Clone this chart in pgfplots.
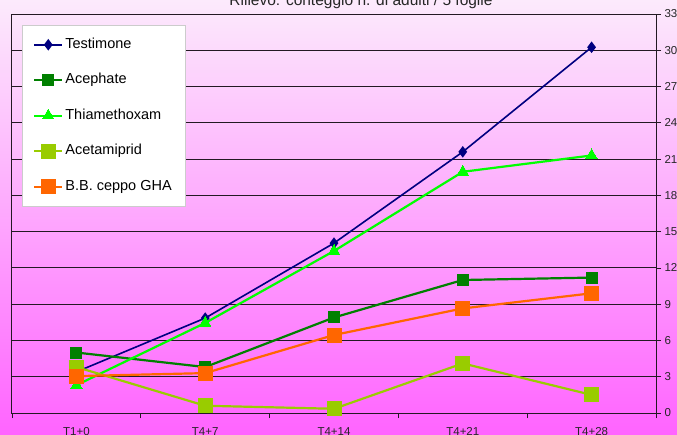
\documentclass[border=0pt]{standalone}
\usepackage{fontspec}
\setmainfont{Liberation Sans}
\usepackage{pgfplots}
\pgfplotsset{compat=1.18}

\definecolor{bgtop}{RGB}{252,234,252}
\definecolor{bgbot}{RGB}{255,100,255}
\definecolor{cTest}{RGB}{0,0,128}
\definecolor{cAceph}{RGB}{0,128,0}
\definecolor{cThia}{RGB}{0,255,0}
\definecolor{cAcet}{RGB}{153,204,0}
\definecolor{cBB}{RGB}{255,102,0}
\definecolor{gridc}{RGB}{35,25,35}

\begin{document}
\begin{tikzpicture}[x=1pt,y=1pt]
\useasboundingbox (0,0) rectangle (677,434);
\shade[top color=bgtop, bottom color=bgbot] (0,0) rectangle (677,434);
\node[anchor=base, font=\fontsize{15.5}{18}\selectfont, text=black!85] at (361,428.5)
  {Rilievo: conteggio n. di adulti / 5 foglie};
\begin{axis}[
  at={(12pt,21pt)}, anchor=south west,
  scale only axis, width=644pt, height=399pt,
  xmin=-0.5, xmax=4.5, ymin=0, ymax=33,
  xtick={-0.5,0.5,...,4.5}, x tick label as interval,
  xticklabels={T1+0,T4+7,T4+14,T4+21,T4+28},
  ytick={0,3,...,33},
  xtick pos=lower, ytick pos=upper, yticklabel pos=upper,
  tick align=outside, major tick length=5pt,
  tick style={gridc, line width=0.8pt},
  ymajorgrids, grid style={gridc, line width=1pt},
  axis line style={gridc, line width=1pt},
  /pgf/number format/assume math mode=true,
  ticklabel style={font=\fontsize{11.5}{13}\selectfont, text=black!85},
  xticklabel style={yshift=-6pt},
  legend style={at={(0.0155,0.9724)}, anchor=north west, draw=black!20, fill=white,
    font=\fontsize{14.5}{16}\selectfont, inner xsep=11pt, inner ysep=11.5pt,
    nodes={inner sep=2pt, text height=9.5pt, text depth=2.5pt},
    row sep=19.5pt},
  legend cell align=left,
  legend image code/.code={\draw[mark repeat=2,mark phase=2]
    plot coordinates {(0pt,0pt)(14pt,0pt)(28pt,0pt)};},
]
\addplot[cTest, line width=1.6pt, mark=diamond*, mark size=4.5pt]
  coordinates {(0,3.4)(1,7.85)(2,14.05)(3,21.6)(4,30.25)};
\addlegendentry{Testimone}
\addplot[cAceph, line width=2.2pt, mark=square*, mark size=5.5pt, mark options={line width=0pt}]
  coordinates {(0,5.0)(1,3.8)(2,7.9)(3,11.0)(4,11.2)};
\addlegendentry{Acephate}
\addplot[cThia, line width=2.2pt, mark=triangle*, mark size=6.5pt, mark options={line width=0pt}]
  coordinates {(0,2.3)(1,7.45)(2,13.4)(3,19.95)(4,21.3)};
\addlegendentry{Thiamethoxam}
\addplot[cAcet, line width=2.2pt, mark=square*, mark size=7pt, mark options={line width=0pt}]
  coordinates {(0,3.8)(1,0.6)(2,0.35)(3,4.1)(4,1.5)};
\addlegendentry{Acetamiprid}
\addplot[cBB, line width=2.2pt, mark=square*, mark size=7pt, mark options={line width=0pt}]
  coordinates {(0,3.05)(1,3.3)(2,6.45)(3,8.65)(4,9.9)};
\addlegendentry{B.B. ceppo GHA}
\end{axis}
\end{tikzpicture}
\end{document}
